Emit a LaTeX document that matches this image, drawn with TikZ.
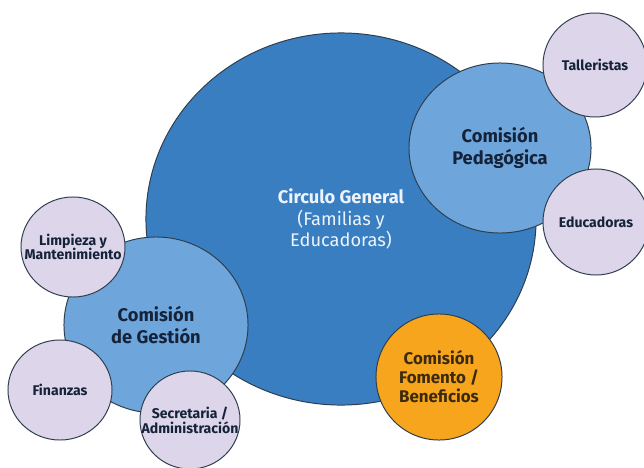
\documentclass[tikz,border=0pt]{standalone}
\usepackage{fontspec}
\setmainfont{Fira Sans}
\usetikzlibrary{shapes.geometric}
\definecolor{cgblue}{RGB}{58,126,194}
\definecolor{cmblue}{RGB}{110,166,220}
\definecolor{cglila}{RGB}{221,214,234}
\definecolor{cgorange}{RGB}{247,165,28}
\definecolor{cgline}{RGB}{47,62,78}
\definecolor{cgnavy}{RGB}{21,35,58}
\definecolor{cgbrown}{RGB}{59,42,14}
\definecolor{cgwhite}{RGB}{236,243,250}

\begin{document}
\begin{tikzpicture}[x=0.025cm, y=-0.025cm,
  bubble/.style={ellipse, draw=cgline, line width=0.7pt, inner sep=0pt},
  bigtext/.style={align=center, font=\fontsize{13}{15}\selectfont},
  smalltext/.style={align=center, text=cgnavy, font=\fontsize{10}{10.5}\selectfont\bfseries}]
\fill[white] (0,0) rectangle (644,467);
\useasboundingbox (0,0) rectangle (644,467);

% Circulo General
\node[bubble, fill=cgblue, minimum width=9.75cm, minimum height=9.3cm] (general) at (341,219) {};
\node[bigtext, text=cgwhite] (general-t) at (general) {\textbf{Circulo General}\\(Familias y\\Educadoras)};

% Comision Pedagogica
\node[bubble, fill=cmblue, minimum width=4.55cm, minimum height=4.25cm] (pedagogica) at (500,148) {};
\node[bigtext, text=cgnavy, font=\fontsize{13}{15.5}\selectfont\bfseries] (pedagogica-t) at (pedagogica) {Comisión\\Pedagógica};
\node[bubble, fill=cglila, minimum width=2.6cm, minimum height=2.6cm] (talleristas) at (595,65) {};
\node[smalltext] (talleristas-t) at (talleristas) {Talleristas};
\node[bubble, fill=cglila, minimum width=2.65cm, minimum height=2.65cm] (educadoras) at (596,222) {};
\node[smalltext] (educadoras-t) at (educadoras) {Educadoras};

% Comision de Gestion
\node[bubble, fill=cmblue, minimum width=4.6cm, minimum height=4.4cm] (gestion) at (156,325) {};
\node[bigtext, text=cgnavy, font=\fontsize{13}{15.5}\selectfont\bfseries] (gestion-t) at (gestion) {Comisión\\de Gestión};
\node[bubble, fill=cglila, minimum width=2.6cm, minimum height=2.5cm] (limpieza) at (73,247) {};
\node[smalltext] (limpieza-t) at (limpieza) {Limpieza y\\Mantenimiento};
\node[bubble, fill=cglila, minimum width=2.6cm, minimum height=2.5cm] (finanzas) at (60,390) {};
\node[smalltext] (finanzas-t) at (finanzas) {Finanzas};
\node[bubble, fill=cglila, minimum width=2.5cm, minimum height=2.45cm] (secretaria) at (190,420) {};
\node[smalltext] (secretaria-t) at (secretaria) {Secretaria /\\Administración};

% Comision Fomento
\node[bubble, fill=cgorange, minimum width=3.15cm, minimum height=3.15cm] (fomento) at (439,377) {};
\node[bigtext, text=cgbrown, font=\fontsize{12}{13.5}\selectfont\bfseries] (fomento-t) at (fomento) {Comisión\\Fomento /\\Beneficios};
\end{tikzpicture}
\end{document}
